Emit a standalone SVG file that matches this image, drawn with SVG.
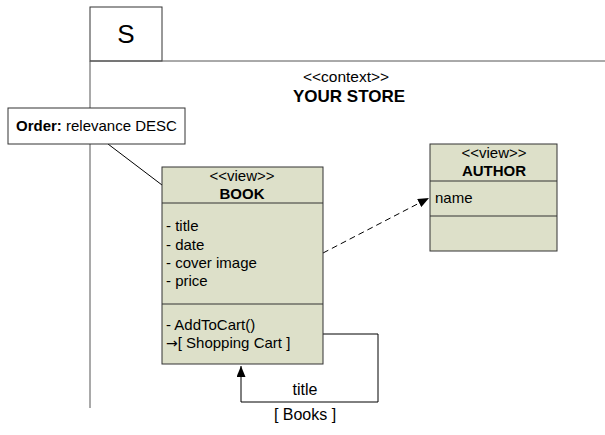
<svg xmlns="http://www.w3.org/2000/svg" width="605" height="435" viewBox="0 0 605 435">
<style>
text{font-family:"Liberation Sans",Arial,sans-serif;fill:#000;font-size:15px}
.box{fill:#dde0c9;stroke:#333;stroke-width:1}
.frame{fill:none;stroke:#555;stroke-width:1}
.ln{fill:none;stroke:#000;stroke-width:1}
.b{font-weight:bold}
.c{text-anchor:middle}
.lbl{font-size:16px}
</style>
<defs>
<marker id="arr" viewBox="0 0 10 10" refX="10" refY="5" markerWidth="11" markerHeight="9" markerUnits="userSpaceOnUse" orient="auto" preserveAspectRatio="none">
<path d="M0,0 L10,5 L0,10 z" fill="#000"/>
</marker>
</defs>
<g id="frame">
<rect x="90" y="7" width="72" height="54" fill="#fff" stroke="#333"/>
<text x="126" y="43" style="font-size:26px" class="c">S</text>
<line x1="90" y1="61" x2="605" y2="61" class="frame"/>
<line x1="90" y1="61" x2="90" y2="408" class="frame"/>
<text x="346" y="82" style="font-size:15.5px" class="c">&lt;&lt;context&gt;&gt;</text>
<text x="349" y="102" style="font-size:17px" class="c b">YOUR STORE</text>
</g>
<g id="connectors">
<line x1="108" y1="144" x2="162" y2="185" class="ln"/>
<line x1="323" y1="253" x2="429" y2="198" class="ln" stroke-dasharray="6,4" marker-end="url(#arr)"/>
<polyline points="323,334 378,334 378,402 241,402 241,366" class="ln" marker-end="url(#arr)"/>
<text x="305" y="395" class="c lbl">title</text>
<text x="305" y="420" class="c lbl">[ Books ]</text>
</g>
<g id="order">
<rect x="8" y="108" width="177" height="36" fill="#fff" stroke="#333"/>
<text x="16" y="131"><tspan class="b">Order:</tspan> relevance DESC</text>
</g>
<g id="book">
<rect x="162" y="167" width="161" height="197" class="box"/>
<line x1="162" y1="203" x2="323" y2="203" stroke="#333"/>
<line x1="162" y1="304" x2="323" y2="304" stroke="#333"/>
<text x="242" y="181" class="c">&lt;&lt;view&gt;&gt;</text>
<text x="242" y="199" class="b c">BOOK</text>
<text x="166" y="231">- title</text>
<text x="166" y="250">- date</text>
<text x="166" y="268">- cover image</text>
<text x="166" y="286">- price</text>
<text x="166" y="330">- AddToCart()</text>
<text x="166" y="348"><tspan style="font-family:'DejaVu Sans',sans-serif;font-size:14px">→</tspan>[ Shopping Cart ]</text>
</g>
<g id="author">
<rect x="430" y="144" width="127" height="107" class="box"/>
<line x1="430" y1="181" x2="557" y2="181" stroke="#333"/>
<line x1="430" y1="216" x2="557" y2="216" stroke="#333"/>
<text x="494" y="158" class="c">&lt;&lt;view&gt;&gt;</text>
<text x="494" y="176" class="b c">AUTHOR</text>
<text x="435" y="203">name</text>
</g>
</svg>
